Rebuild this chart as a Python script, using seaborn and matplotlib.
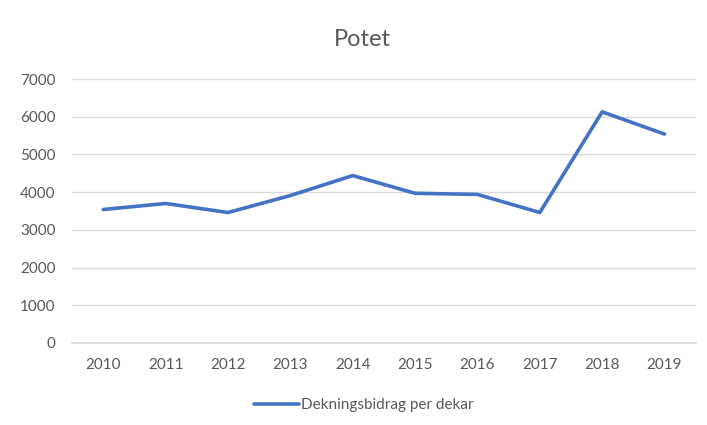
import matplotlib

matplotlib.use("Agg")
import matplotlib.pyplot as plt
import pandas as pd
import seaborn as sns

# Chart data
years = ["2010", "2011", "2012", "2013", "2014", "2015", "2016", "2017", "2018", "2019"]
dekningsbidrag = [3540, 3700, 3460, 3910, 4440, 3970, 3940, 3460, 6130, 5540]
series_name = "Dekningsbidrag per dekar"
title = "Potet"

sns.set_theme(style="white")
plt.rcParams["font.family"] = ["Lato", "DejaVu Sans"]

text_color = "#595959"
grid_color = "#d9d9d9"
line_color = "#4472c4"

df = pd.DataFrame({"year": years, "value": dekningsbidrag, "series": series_name})

fig = plt.figure(figsize=(7.07, 4.25), dpi=100)
ax = fig.add_axes([0.102, 0.193, 0.882, 0.621])

sns.lineplot(
    data=df,
    x="year",
    y="value",
    hue="series",
    palette=[line_color],
    linewidth=2.6,
    ax=ax,
    sort=False,
)

ax.set_xlim(-0.5, len(years) - 0.5)
ax.set_ylim(0, 7000)
ax.set_yticks(range(0, 7001, 1000))
ax.yaxis.grid(True, color=grid_color, linewidth=1)
ax.set_axisbelow(True)
for side in ["top", "right", "left"]:
    ax.spines[side].set_visible(False)
ax.spines["bottom"].set_color(grid_color)
ax.tick_params(axis="both", length=0, labelsize=11, colors=text_color)
ax.tick_params(axis="x", pad=11)
ax.tick_params(axis="y", pad=12)
ax.set_xlabel("")
ax.set_ylabel("")

fig.text(0.512, 0.906, title, ha="center", va="center", fontsize=17, color=text_color)

ax.legend(
    loc="center",
    bbox_to_anchor=(0.515, 0.047),
    bbox_transform=fig.transFigure,
    frameon=False,
    fontsize=11,
    labelcolor=text_color,
    handlelength=2.9,
    handletextpad=0.15,
)

fig.savefig("out.png", dpi=100)
plt.close(fig)
